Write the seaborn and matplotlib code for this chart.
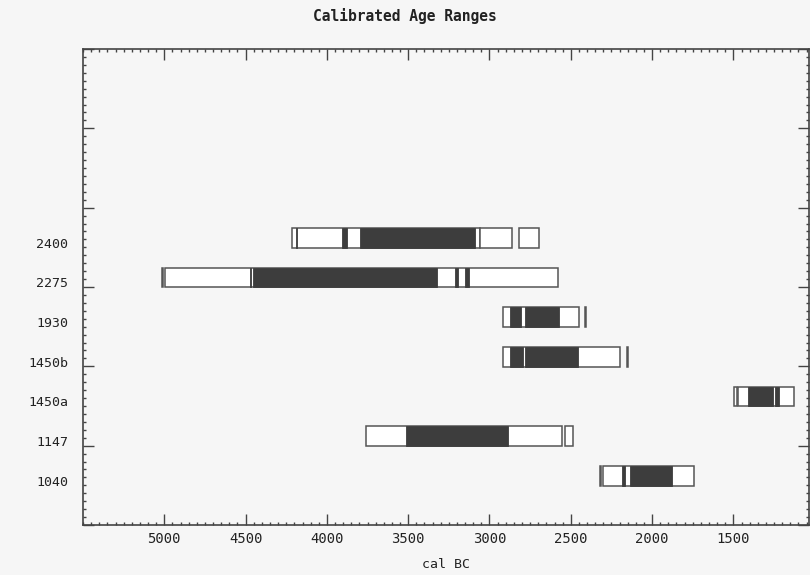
import numpy as np
import pandas as pd
import matplotlib
matplotlib.use('Agg')
import matplotlib.pyplot as plt
from matplotlib.ticker import MultipleLocator
import seaborn as sns

# образцы (сверху вниз) и их калиброванные интервалы, cal BC
samples = ['2400', '2275', '1930', '1450b', '1450a', '1147', '1040']

# 2 sigma (белые прямоугольники)
two_sigma = {
    '2400': [(4215, 3060), (3057, 2860), (2817, 2694)],
    '2275': [(5015, 5008), (4994, 2581)],
    '1930': [(2917, 2452), (2413, 2408)],
    '1450b': [(2917, 2200), (2156, 2151)],
    '1450a': [(1495, 1478), (1473, 1125)],
    '1147': [(3758, 2554), (2534, 2489)],
    '1040': [(2322, 2317), (2302, 1740)],
}

# 1 sigma (тёмные прямоугольники)
one_sigma = {
    '2400': [(4190, 4182), (3907, 3876), (3795, 3087)],
    '2275': [(4472, 4466), (4452, 3323), (3210, 3196), (3149, 3129)],
    '1930': [(2872, 2806), (2784, 2575)],
    '1450b': [(2872, 2796), (2782, 2456)],
    '1450a': [(1413, 1256), (1242, 1218)],
    '1147': [(3512, 2886)],
    '1040': [(2185, 2165), (2138, 1878)],
}

rows = []
for s in samples:
    for a, b in two_sigma[s]:
        rows.append({'sample': s, 'start': a, 'end': b, 'level': '2s'})
    for a, b in one_sigma[s]:
        rows.append({'sample': s, 'start': a, 'end': b, 'level': '1s'})
df = pd.DataFrame(rows)

sns.set_style('white')
paper = '#f6f6f6'
ink = '#3d3d3d'
mono = ['DejaVu Sans Mono']

fig = plt.figure(figsize=(8.1, 5.75), dpi=100, facecolor=paper)
ax = fig.add_axes([83 / 810, 50 / 575, 726 / 810, 476 / 575])
ax.set_facecolor(paper)

# положение строк по оси y (снизу вверх)
ypos = {s: 0.62 + 0.5 * (len(samples) - 1 - i) for i, s in enumerate(samples)}
h = 0.25

for level, fc, ec, lw in [('2s', 'white', '#555555', 1.1), ('1s', ink, ink, 0.6)]:
    sub = df[df['level'] == level]
    ax.barh([ypos[s] for s in sub['sample']], sub['end'] - sub['start'],
            left=sub['start'], height=h, color=fc, edgecolor=ec, linewidth=lw, zorder=2)

for s in samples:
    ax.text(-0.02, ypos[s] - 0.08, s, transform=ax.get_yaxis_transform(),
            ha='right', va='center', fontsize=9.5, family=mono, color='#222222')

ax.set_xlim(5500, 1035)
ax.set_ylim(0, 6)
ax.xaxis.set_major_locator(MultipleLocator(500))
ax.xaxis.set_minor_locator(MultipleLocator(50))
ax.yaxis.set_major_locator(MultipleLocator(1))
ax.yaxis.set_minor_locator(MultipleLocator(0.1))
ax.set_yticklabels([])
ax.tick_params(which='both', direction='in', top=True, right=True, left=True, bottom=True,
               color='#444444', width=1.0)
ax.tick_params(which='major', length=8)
ax.tick_params(which='minor', length=2.5)
ax.tick_params(axis='x', which='major', labelsize=10, pad=5, labelcolor='#222222')

xt = [t for t in ax.get_xticks() if 1035 < t < 5500]
ax.set_xticks(xt)
ax.set_xticklabels([str(int(t)) for t in xt], family=mono, fontsize=10)

for sp in ax.spines.values():
    sp.set_color('#444444')
    sp.set_linewidth(1.2)

ax.set_xlabel('cal BC', family=mono, fontsize=9.5, labelpad=9, color='#222222')
fig.text(0.5, 0.972, 'Calibrated Age Ranges', ha='center', va='center',
         family=mono, fontsize=10.5, fontweight='bold', color='#222222')

fig.savefig('out.png', dpi=100, facecolor=paper)
